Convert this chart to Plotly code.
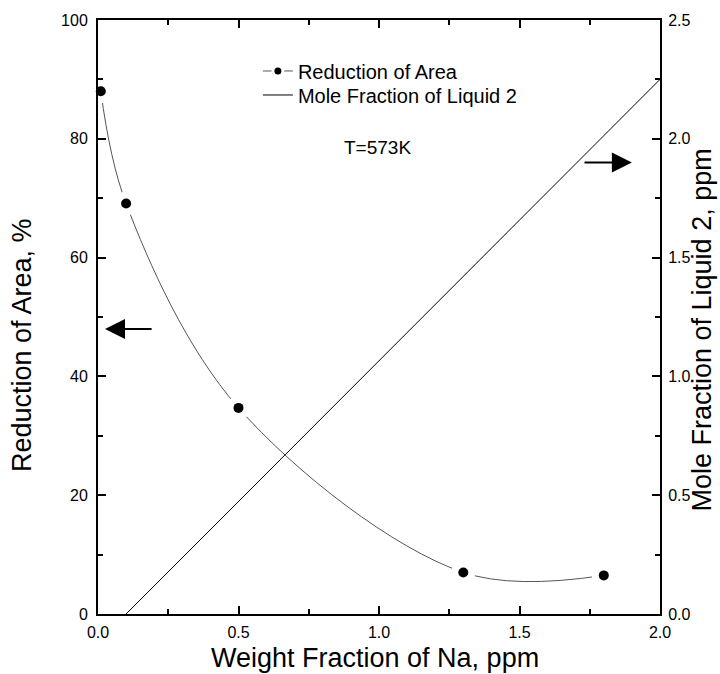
import plotly.graph_objects as go

# Data
na_weight = [0.01, 0.1, 0.5, 1.3, 1.8]
reduction_area = [88.0, 69.1, 34.7, 7.0, 6.5]
liquid2_x = [0.1, 2.0]
liquid2_frac = [0.0, 2.25]

FONT = "Liberation Sans, Arial, sans-serif"

fig = go.Figure()

fig.add_trace(go.Scatter(
    x=na_weight, y=reduction_area, mode="lines+markers",
    line=dict(shape="spline", color="#555555", width=1),
    marker=dict(symbol="circle", size=10, color="black", line=dict(color="white", width=3)),
    name="Reduction of Area", yaxis="y", cliponaxis=False, legend="legend",
))
fig.add_trace(go.Scatter(
    x=na_weight, y=reduction_area, mode="markers",
    marker=dict(symbol="circle", size=24, color="white", line=dict(width=0)),
    showlegend=False, hoverinfo="skip", yaxis="y", cliponaxis=False,
))
fig.add_trace(go.Scatter(
    x=na_weight, y=reduction_area, mode="markers",
    marker=dict(symbol="circle", size=10, color="black", line=dict(width=0)),
    showlegend=False, yaxis="y", cliponaxis=False,
))
fig.add_trace(go.Scatter(
    x=liquid2_x, y=liquid2_frac, mode="lines",
    line=dict(color="black", width=1),
    name="Mole Fraction of Liquid 2", yaxis="y2", legend="legend2",
))

axis_common = dict(
    showline=True, linecolor="black", linewidth=2,
    ticks="inside", ticklen=8, tickwidth=1.5, tickcolor="black",
    showgrid=False, zeroline=False, automargin=False,
    tickfont=dict(family=FONT, size=16, color="black"),
)

legend_common = dict(
    xanchor="left", yanchor="top",
    bgcolor="rgba(0,0,0,0)", font=dict(family=FONT, size=20, color="black"),
)

fig.update_layout(
    width=720, height=674,
    paper_bgcolor="white", plot_bgcolor="white",
    margin=dict(l=98, r=60, t=20, b=60),
    font=dict(family=FONT, color="black"),
    xaxis=dict(
        range=[0, 2.0], tickvals=[0, 0.5, 1.0, 1.5, 2.0],
        ticktext=["0.0", "0.5", "1.0", "1.5", "2.0"], mirror="ticks",
        ticklabelstandoff=3,
        minor=dict(dtick=0.25, ticks="inside", ticklen=5, tickwidth=1.5, tickcolor="black"),
        **axis_common,
    ),
    yaxis=dict(
        range=[0, 100], tickvals=[0, 20, 40, 60, 80, 100],
        ticklabelstandoff=5,
        minor=dict(dtick=10, ticks="inside", ticklen=5, tickwidth=1.5, tickcolor="black"),
        **axis_common,
    ),
    yaxis2=dict(
        range=[0, 2.5], tickvals=[0, 0.5, 1.0, 1.5, 2.0, 2.5],
        ticktext=["0.0", "0.5", "1.0", "1.5", "2.0", "2.5"],
        overlaying="y", side="right", ticklabelstandoff=3,
        minor=dict(dtick=0.25, ticks="inside", ticklen=5, tickwidth=1.5, tickcolor="black"),
        **axis_common,
    ),
    legend=dict(x=0.2845, y=0.947, **legend_common),
    legend2=dict(x=0.2845, y=0.9066, **legend_common),
    showlegend=True,
)

# axis titles
fig.add_annotation(x=0.493, y=-0.074, xref="paper", yref="paper", text="Weight Fraction of Na, ppm",
                   showarrow=False, xanchor="center", yanchor="middle",
                   font=dict(family=FONT, size=27, color="black"))
fig.add_annotation(x=-0.135, y=0.453, xref="paper", yref="paper", text="Reduction of Area, %",
                   showarrow=False, xanchor="center", yanchor="middle", textangle=-90,
                   font=dict(family=FONT, size=27, color="black"))
fig.add_annotation(x=1.0755, y=0.478, xref="paper", yref="paper", text="Mole Fraction of Liquid 2, ppm",
                   showarrow=False, xanchor="center", yanchor="middle", textangle=-90,
                   font=dict(family=FONT, size=27, color="black"))

fig.add_annotation(
    x=0.497, y=0.807, xref="paper", yref="paper", text="T=573K", showarrow=False,
    font=dict(family=FONT, size=19, color="black"),
)
fig.add_annotation(
    x=0.025, y=48, xref="x", yref="y", ax=0.196, ay=48, axref="x", ayref="y",
    text="", showarrow=True, arrowhead=2, arrowsize=2, arrowwidth=2, arrowcolor="black",
)
fig.add_annotation(
    x=1.90, y=1.9, xref="x", yref="y2", ax=1.726, ay=1.9, axref="x", ayref="y2",
    text="", showarrow=True, arrowhead=2, arrowsize=2, arrowwidth=2, arrowcolor="black",
)

fig.write_html(
    "out.html",
    config={"displayModeBar": False},
    post_script="document.body.style.margin='0';document.body.style.overflow='hidden';",
)
